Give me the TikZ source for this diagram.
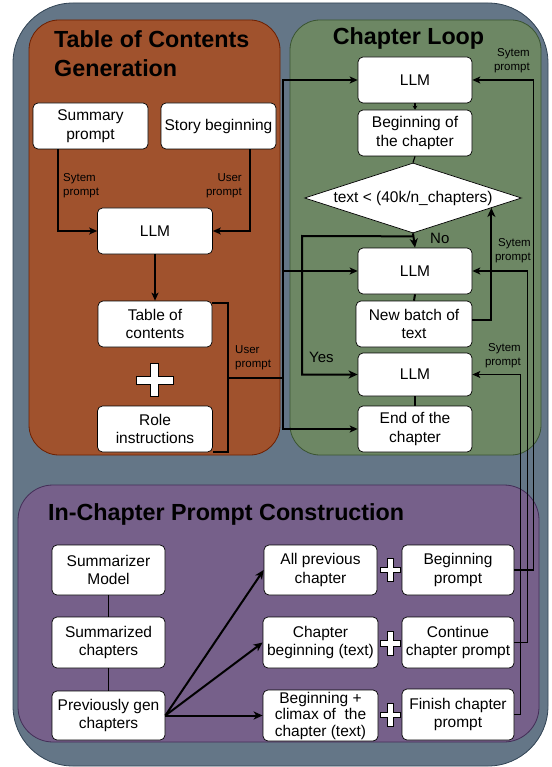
\documentclass[tikz,border=0pt]{standalone}
\usepackage{fontspec}
\setmainfont{Liberation Sans}
\usetikzlibrary{shapes.geometric, arrows.meta, calc}

\definecolor{outerfill}{HTML}{647687}
\definecolor{outerline}{HTML}{314354}
\definecolor{tocfill}{HTML}{A0522D}
\definecolor{tocline}{HTML}{6D1F00}
\definecolor{loopfill}{HTML}{6D8764}
\definecolor{loopline}{HTML}{3A5431}
\definecolor{promptfill}{HTML}{76608A}
\definecolor{promptline}{HTML}{432D57}

% white plus sign: centre x, centre y, half width, half height, half arm
\newcommand{\plusmark}[5]{%
  \draw[fill=white, line width=0.7pt]
    ({#1-#5},{#2-#4}) -- ({#1+#5},{#2-#4}) -- ({#1+#5},{#2-#5}) -- ({#1+#3},{#2-#5})
    -- ({#1+#3},{#2+#5}) -- ({#1+#5},{#2+#5}) -- ({#1+#5},{#2+#4}) -- ({#1-#5},{#2+#4})
    -- ({#1-#5},{#2+#5}) -- ({#1-#3},{#2+#5}) -- ({#1-#3},{#2-#5}) -- ({#1-#5},{#2-#5}) -- cycle;
}

\begin{document}
\begin{tikzpicture}[x=1pt, y=-1pt,
  box/.style={draw, line width=0.7pt, fill=white, rounded corners=5pt, align=center,
    inner sep=2pt, minimum width=115pt, minimum height=46pt,
    font=\fontsize{15.5}{18.5}\selectfont},
  wide/.style={minimum width=113pt, minimum height=50pt},
  check/.style={draw, line width=0.7pt, fill=white, diamond, aspect=3.1, inner sep=0pt,
    minimum width=217pt, minimum height=70pt, font=\fontsize{15.5}{18.5}\selectfont},
  title/.style={font=\fontsize{23.3}{29}\selectfont\bfseries, inner sep=0pt, align=left},
  note/.style={font=\fontsize{11.5}{14}\selectfont, inner sep=0pt},
  branch/.style={font=\fontsize{15}{18}\selectfont, inner sep=0pt},
  link/.style={line width=1.2pt},
  arr/.style={link, -{Stealth[length=8pt, width=7pt, inset=2pt]}},
  boldlink/.style={line width=2pt},
  boldarr/.style={boldlink, -{Stealth[length=9pt, width=8pt, inset=2.5pt]}},
]
\useasboundingbox (0,0) rectangle (551,767);

% panels
\draw[fill=outerfill, draw=outerline, line width=0.8pt, rounded corners=60pt] (13,3) rectangle (548,766);
\draw[fill=tocfill, draw=tocline, line width=0.8pt, rounded corners=30pt] (29,20) rectangle (280,455);
\draw[fill=loopfill, draw=loopline, line width=0.8pt, rounded corners=30pt] (290,20) rectangle (541,455);
\draw[fill=promptfill, draw=promptline, line width=0.8pt, rounded corners=35pt] (18,485) rectangle (539,742);

\node (toctitle) at (54,30) [title, anchor=north west] {Table of Contents\\Generation};
\node (looptitle) at (408.5,45) [title, anchor=base] {Chapter Loop};
\node (prompttitle) at (48,520) [title, anchor=base west] {In-Chapter Prompt Construction};

% table of contents generation
\node (summ) at (90.5,126) [box] {Summary\\prompt};
\node (story) at (218.5,126) [box] {Story beginning};
\node (llmtoc) at (155,231) [box] {LLM};
\node (toc) at (155,324) [box, minimum width=114pt] {Table of\\contents};
\node (role) at (155,429) [box] {Role\\instructions};
\plusmark{154.5}{380}{18.5}{16.7}{4}

\draw[arr] ([xshift=-32.5pt]summ.south) |- (llmtoc.west);
\draw[arr] ([xshift=31.5pt]story.south) |- (llmtoc.east);
\draw[arr] (llmtoc.south) -- (toc.north);
\node (sysnote) at (63,173) [note, anchor=north west, align=left] {Sytem\\prompt};
\node (usernote) at (242,173) [note, anchor=north east, align=right] {User\\prompt};

\coordinate (tocjoin) at (229,378);
\coordinate (bus) at (283,378);
\draw[boldlink] ([yshift=-2pt]toc.north east) -- ++(16,0) |- (role.south east);
\draw[boldlink] (tocjoin) -- (bus);
\node (usernote2) at (235,345) [note, anchor=north west, align=left] {User\\prompt};

% chapter loop
\node (llma) at (415,80) [box, minimum width=114pt] {LLM};
\node (begch) at (415,133) [box, minimum width=114pt] {Beginning of\\the chapter};
\node (cond) at (413,198) [check] {text < (40k/n\_chapters)};
\node (llmb) at (415,271) [box, minimum width=114pt] {LLM};
\node (batch) at (414,324) [box, minimum width=116pt] {New batch of\\text};
\node (llmc) at (415,374.5) [box, minimum width=114pt, minimum height=43pt] {LLM};
\node (endch) at (415,429) [box, minimum width=114pt] {End of the\\chapter};

\draw[boldlink] (llma.west -| bus) -- (endch.west -| bus);
\draw[arr] (bus) |- (llma.west);
\draw[arr] (bus) |- (llmb.west);
\draw[arr] (bus) |- (endch.west);

\draw[link, -{Stealth[length=4pt, width=5pt]}] (llma.south) -- (begch.north);
\draw[link] (begch.south) -- (cond.north);
\draw[boldarr] (cond.south) -- (llmb.north);
\node (nolabel) at (430,238) [branch, anchor=west] {No};
\coordinate (yesturn) at (302,236);
\draw[boldarr] ([yshift=-3pt]cond.south) -- (yesturn) |- (llmc.west);
\node (yeslabel) at (309,357) [branch, anchor=west] {Yes};
\draw[boldlink] (llmb.south) -- (batch.north);
\draw[boldarr] ([yshift=4pt]batch.east) -| ($(cond.east)!0.28!(cond.south)$);
\draw[boldlink] (llmc.south) -- (endch.north);

% in-chapter prompt construction
\node (sumzr) at (108.5,570) [box, wide] {Summarizer\\Model};
\node (sumd) at (108.5,642.5) [box, wide, minimum height=51pt] {Summarized\\chapters};
\node (prevgen) at (108.5,715.5) [box, wide, minimum height=49pt] {Previously gen\\chapters};
\node (allprev) at (320.5,570) [box, wide] {All previous\\chapter};
\node (begprompt) at (458,570) [box, wide, minimum width=112pt] {Beginning\\prompt};
\node (chbeg) at (320.5,642.5) [box, wide, minimum width=115pt, minimum height=51pt] {Chapter\\beginning (text)};
\node (contprompt) at (458,642.5) [box, wide, minimum width=112pt, minimum height=51pt] {Continue\\chapter prompt};
\node (climax) at (320.5,715.5) [box, wide, minimum width=115pt, minimum height=51pt, inner sep=0pt,
  font=\fontsize{15.5}{16.5}\selectfont] {Beginning +\\climax of\ \ the\\chapter (text)};
\node (finprompt) at (458,714.5) [box, wide, minimum width=112pt, minimum height=51pt] {Finish chapter\\prompt};
\plusmark{390.3}{570}{9.7}{11.7}{2.7}
\plusmark{390.3}{643.3}{9.7}{11.7}{2.7}
\plusmark{390.3}{715}{9.7}{11.7}{2.7}

\draw[link] (sumzr) -- (sumd);
\draw[link] (sumd) -- (prevgen);
\draw[boldarr] (prevgen.east) -- (allprev.west);
\draw[boldarr] (prevgen.east) -- (chbeg.west);
\draw[boldarr] (prevgen.east) -- (climax.west);

% system prompts back into the loop
\draw[arr] (begprompt.east) -- ++(19,0) |- (llma.east);
\draw[arr] (contprompt.east) -- ++(13,0) |- (llmb.east);
\draw[arr] (finprompt.east) -- ++(6,0) |- (llmc.east);
\node (sysnote1) at (530,73) [note, anchor=south east, align=right] {Sytem\\prompt};
\node (sysnote2) at (531,263) [note, anchor=south east, align=right] {Sytem\\prompt};
\node (sysnote3) at (521,368) [note, anchor=south east, align=right] {Sytem\\prompt};
\end{tikzpicture}
\end{document}
